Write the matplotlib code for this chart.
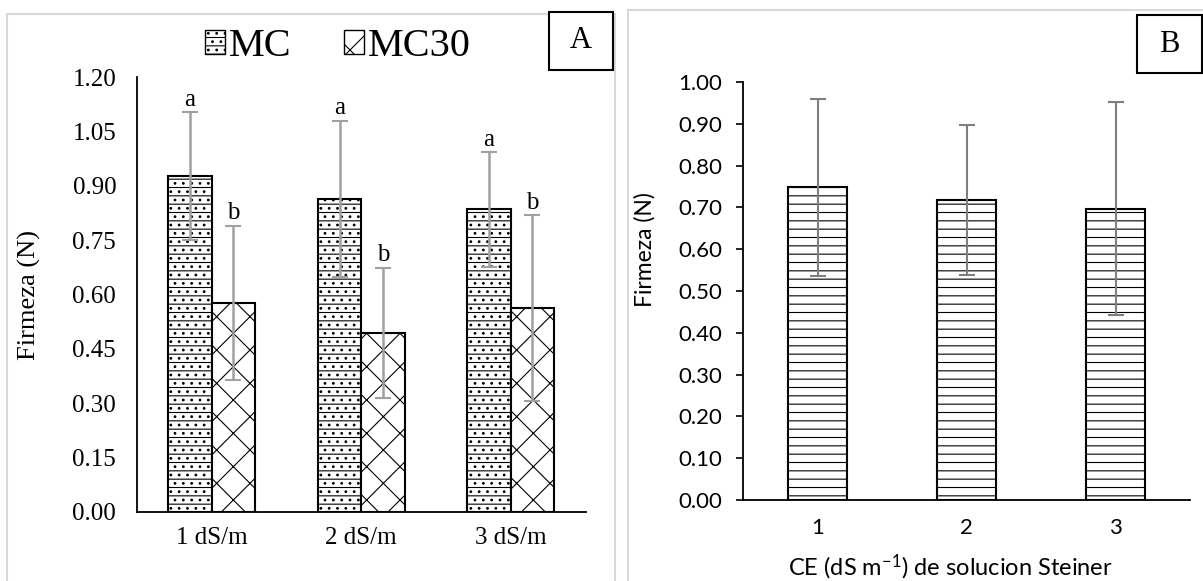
import numpy as np
import matplotlib
matplotlib.use('Agg')
import matplotlib.pyplot as plt
from matplotlib.patches import Rectangle, Patch

# Data
groups_A = ['1 dS/m', '2 dS/m', '3 dS/m']
mc = [0.927, 0.863, 0.835]
mc_err = [0.176, 0.216, 0.158]
mc30 = [0.577, 0.494, 0.562]
mc30_err = [0.213, 0.180, 0.256]
letters_mc = ['a', 'a', 'a']
letters_mc30 = ['b', 'b', 'b']
yticks_A = [0.00, 0.15, 0.30, 0.45, 0.60, 0.75, 0.90, 1.05, 1.20]

groups_B = ['1', '2', '3']
steiner = [0.748, 0.717, 0.697]
steiner_err = [0.212, 0.179, 0.254]
yticks_B = [0.00, 0.10, 0.20, 0.30, 0.40, 0.50, 0.60, 0.70, 0.80, 0.90, 1.00]

serif = 'Liberation Serif'
sans = 'Lato'
plt.rcParams['hatch.color'] = 'black'
plt.rcParams['hatch.linewidth'] = 0.8
plt.rcParams['mathtext.fontset'] = 'custom'
plt.rcParams['mathtext.rm'] = sans
plt.rcParams['mathtext.default'] = 'regular'

W, H = 1203, 581
fig = plt.figure(figsize=(W / 100, H / 100), dpi=100)

def fig_box(x0, y0, x1, y1):
    # pixel box (top-left origin) -> figure fraction rect
    return [x0 / W, 1 - y1 / H, (x1 - x0) / W, (y1 - y0) / H]

# light gray panel borders
for (x0, y0, x1, y1) in [(7, 14, 615, 590), (628, 10, 1210, 590)]:
    l, b, w, h = fig_box(x0, y0, x1, y1)
    fig.patches.append(Rectangle((l, b), w, h, transform=fig.transFigure,
                                 fill=False, edgecolor='#d9d9d9', lw=1.5))

# ---------------- Panel A ----------------
axA = fig.add_axes(fig_box(137, 77, 585.5, 512))
x = np.arange(len(groups_A)) + 0.5
bw = 0.29
errkw = dict(ecolor='#a0a0a0', elinewidth=1.8, capsize=6, capthick=1.5)
axA.bar(x - bw / 2, mc, bw, yerr=mc_err, color='white', edgecolor='black',
        lw=1.5, hatch='--..', error_kw=errkw, label='MC')
axA.bar(x + bw / 2, mc30, bw, yerr=mc30_err, color='white', edgecolor='black',
        lw=1.5, hatch='x', error_kw=errkw, label='MC30')

# significance letters
for i in range(len(groups_A)):
    axA.annotate(letters_mc[i], (x[i] - bw / 2, mc[i] + mc_err[i]),
                 textcoords='offset points', xytext=(0, 1), ha='center',
                 va='bottom', family=serif, fontsize=18)
    axA.annotate(letters_mc30[i], (x[i] + bw / 2, mc30[i] + mc30_err[i]),
                 textcoords='offset points', xytext=(0, 1), ha='center',
                 va='bottom', family=serif, fontsize=18)

axA.set_xlim(0, 3)
axA.set_ylim(0, 1.2)
axA.set_xticks(x)
axA.set_xticklabels(groups_A)
axA.set_yticks(yticks_A)
axA.set_yticklabels(['%.2f' % v for v in yticks_A])
axA.tick_params(length=0, labelsize=18)
axA.tick_params(axis='y', pad=15)
axA.tick_params(axis='x', pad=11)
for lab in axA.get_xticklabels() + axA.get_yticklabels():
    lab.set_family(serif)
axA.spines['top'].set_visible(False)
axA.spines['right'].set_visible(False)
axA.spines['left'].set_linewidth(1.3)
axA.spines['bottom'].set_linewidth(1.3)
axA.set_ylabel('Firmeza (N)', family=serif, fontsize=19)
axA.yaxis.set_label_coords(-0.215, 0.5)

handles = [Patch(facecolor='white', edgecolor='black', hatch='--..', lw=1),
           Patch(facecolor='white', edgecolor='black', hatch='x', lw=1)]
fig.legend(handles, ['MC', 'MC30'], loc='center', ncol=2, frameon=False,
           bbox_to_anchor=(338 / W, 1 - 47 / H), prop={'family': serif, 'size': 29},
           handlelength=0.5, handleheight=0.55, handletextpad=0.1, columnspacing=1.3)

# ---------------- Panel B ----------------
axB = fig.add_axes(fig_box(743, 82, 1190, 500))
xb = np.arange(len(groups_B)) + 0.5
axB.bar(xb, steiner, 0.4, yerr=steiner_err, color='white', edgecolor='black',
        lw=1.5, hatch='--',
        error_kw=dict(ecolor='#7f7f7f', elinewidth=1.5, capsize=6, capthick=1.5))
axB.set_xlim(0, 3)
axB.set_ylim(0, 1.0)
axB.set_xticks(xb)
axB.set_xticklabels(groups_B)
axB.set_yticks(yticks_B)
axB.set_yticklabels(['%.2f' % v for v in yticks_B])
axB.tick_params(axis='x', length=0, pad=13, labelsize=16)
axB.tick_params(axis='y', length=5, width=1.2, pad=10, labelsize=16)
for lab in axB.get_xticklabels() + axB.get_yticklabels():
    lab.set_family(sans)
axB.spines['top'].set_visible(False)
axB.spines['right'].set_visible(False)
axB.spines['left'].set_linewidth(1.3)
axB.spines['bottom'].set_linewidth(1.3)
axB.set_ylabel('Firmeza (N)', family=sans, fontsize=16.5)
axB.yaxis.set_label_coords(-0.195, 0.6)
axB.set_xlabel('CE (dS m$^{-1}$) de solucion Steiner', family=sans, fontsize=17)
axB.xaxis.set_label_coords(0.465, -0.125)

# panel letter boxes
for (x0, y0, x1, y1), txt in [((549, 12, 613, 70), 'A'), ((1137, 15, 1202, 73), 'B')]:
    l, b, w, h = fig_box(x0, y0, x1, y1)
    fig.patches.append(Rectangle((l, b), w, h, transform=fig.transFigure,
                                 facecolor='white', edgecolor='black', lw=1.5))
    fig.text(l + w / 2, b + h / 2, txt, ha='center', va='center',
             family=serif, fontsize=22)

fig.savefig('out.png', dpi=100)
